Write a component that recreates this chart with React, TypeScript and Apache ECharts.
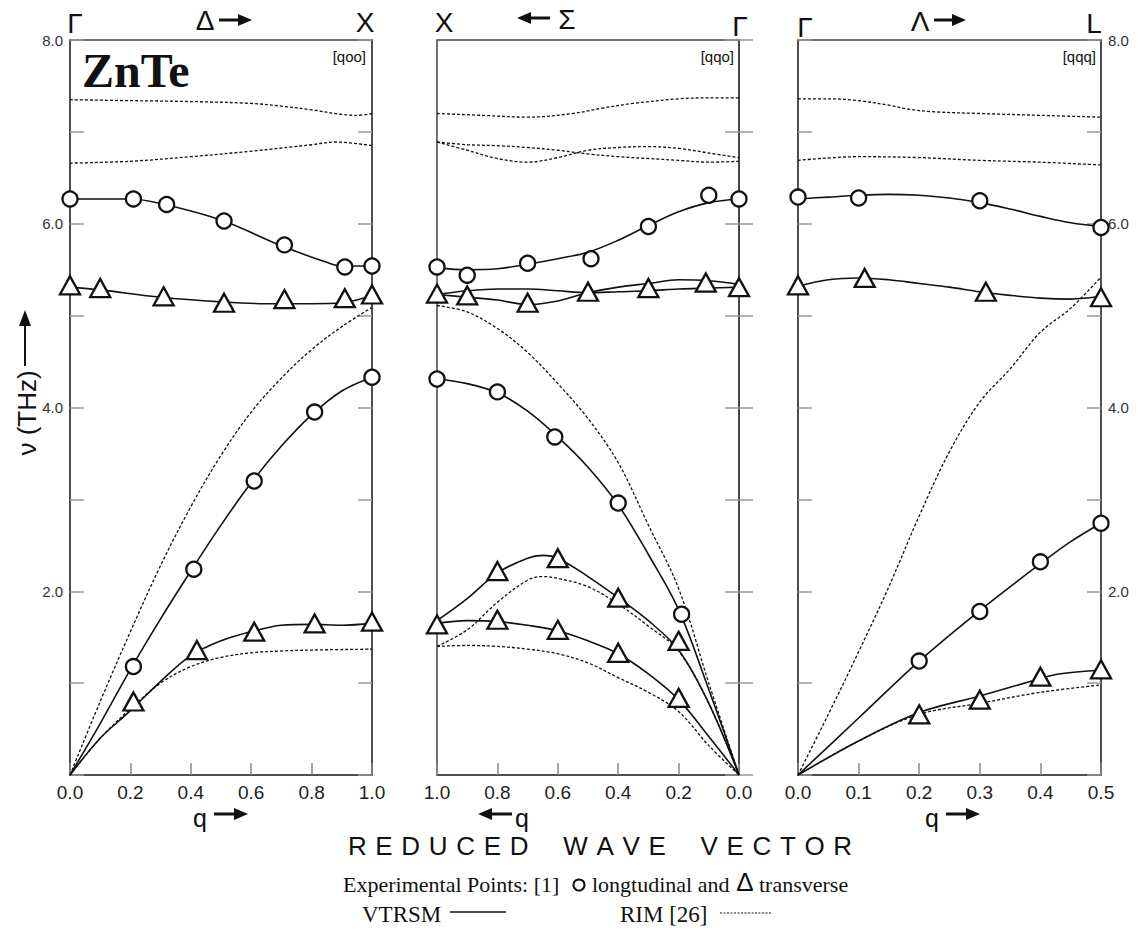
import React, { useEffect, useRef } from "react";
import * as echarts from "echarts";

type P = [number, number][];

// ---------- Panel 1: Γ → X  [q00] ----------
const P1_RIM_OPT_UPPER: P = [[0, 7.35], [0.2, 7.34], [0.4, 7.33], [0.6, 7.31], [0.7, 7.28], [0.8, 7.24], [0.9, 7.19], [0.95, 7.18], [1.0, 7.2]];
const P1_RIM_OPT_LOWER: P = [[0, 6.66], [0.2, 6.68], [0.4, 6.73], [0.6, 6.79], [0.8, 6.86], [0.88, 6.89], [1.0, 6.85]];
const P1_RIM_LA: P = [[0, 0], [0.1, 0.8], [0.2, 1.56], [0.3, 2.28], [0.4, 2.92], [0.5, 3.48], [0.6, 3.95], [0.7, 4.32], [0.8, 4.63], [0.9, 4.88], [1.0, 5.09]];
const P1_RIM_TA: P = [[0, 0], [0.1, 0.4], [0.2, 0.72], [0.3, 1.0], [0.4, 1.18], [0.5, 1.28], [0.6, 1.33], [0.7, 1.35], [0.8, 1.36], [1.0, 1.37]];
const P1_VT_LO: P = [[0, 6.27], [0.2, 6.27], [0.3, 6.22], [0.5, 6.04], [0.7, 5.76], [0.85, 5.58], [0.9, 5.54], [1.0, 5.54]];
const P1_VT_TO: P = [[0, 5.31], [0.1, 5.28], [0.3, 5.2], [0.5, 5.15], [0.65, 5.13], [0.8, 5.13], [0.9, 5.14], [1.0, 5.22]];
const P1_VT_LA: P = [[0, 0], [0.1, 0.56], [0.2, 1.15], [0.3, 1.7], [0.4, 2.22], [0.5, 2.72], [0.6, 3.18], [0.7, 3.58], [0.8, 3.92], [0.9, 4.18], [1.0, 4.33]];
const P1_VT_TA: P = [[0, 0], [0.1, 0.4], [0.2, 0.7], [0.3, 1.02], [0.4, 1.3], [0.5, 1.46], [0.6, 1.56], [0.7, 1.63], [0.8, 1.64], [0.9, 1.63], [1.0, 1.65]];
const P1_EXP_L: P = [[0, 6.27], [0.21, 6.27], [0.32, 6.21], [0.51, 6.03], [0.71, 5.77], [0.91, 5.53], [1.0, 5.54], [0.21, 1.18], [0.41, 2.24], [0.61, 3.2], [0.81, 3.95], [1.0, 4.33]];
const P1_EXP_T: P = [[0, 5.33], [0.1, 5.3], [0.31, 5.21], [0.51, 5.14], [0.71, 5.18], [0.91, 5.19], [1.0, 5.23], [0.21, 0.8], [0.42, 1.36], [0.61, 1.56], [0.81, 1.65], [1.0, 1.67]];

// ---------- Panel 2: X ← Γ  [qq0] ----------
const P2_RIM_OPT_UPPER: P = [[1.0, 7.2], [0.85, 7.18], [0.7, 7.16], [0.55, 7.2], [0.45, 7.26], [0.35, 7.31], [0.2, 7.36], [0.1, 7.37], [0, 7.37]];
const P2_RIM_OPT_A: P = [[1.0, 6.89], [0.9, 6.8], [0.8, 6.71], [0.7, 6.67], [0.6, 6.72], [0.5, 6.8], [0.4, 6.83], [0.3, 6.84], [0.2, 6.82], [0.1, 6.77], [0, 6.72]];
const P2_RIM_OPT_B: P = [[1.0, 6.89], [0.9, 6.86], [0.8, 6.85], [0.7, 6.83], [0.6, 6.8], [0.5, 6.76], [0.4, 6.73], [0.3, 6.71], [0.2, 6.69], [0.1, 6.67], [0, 6.68]];
const P2_RIM_LA: P = [[1.0, 5.11], [0.9, 5.04], [0.8, 4.86], [0.7, 4.6], [0.6, 4.26], [0.5, 3.88], [0.4, 3.4], [0.3, 2.72], [0.2, 2.03], [0.1, 1.0], [0, 0]];
const P2_RIM_TA_UPPER: P = [[1.0, 1.4], [0.9, 1.58], [0.8, 1.88], [0.7, 2.12], [0.65, 2.16], [0.6, 2.14], [0.5, 2.05], [0.4, 1.86], [0.3, 1.62], [0.2, 1.35], [0.1, 0.78], [0, 0]];
const P2_RIM_TA_LOWER: P = [[1.0, 1.4], [0.9, 1.41], [0.8, 1.4], [0.7, 1.37], [0.6, 1.32], [0.5, 1.22], [0.4, 1.06], [0.3, 0.9], [0.2, 0.69], [0.1, 0.32], [0, 0]];
const P2_VT_LO: P = [[1.0, 5.52], [0.9, 5.5], [0.8, 5.51], [0.7, 5.56], [0.6, 5.62], [0.5, 5.69], [0.4, 5.82], [0.3, 5.98], [0.2, 6.13], [0.1, 6.23], [0, 6.27]];
const P2_VT_TO_A: P = [[1.0, 5.23], [0.9, 5.27], [0.8, 5.29], [0.7, 5.29], [0.6, 5.27], [0.5, 5.25], [0.4, 5.26], [0.3, 5.27], [0.2, 5.29], [0.1, 5.3], [0, 5.31]];
const P2_VT_TO_B: P = [[1.0, 5.23], [0.9, 5.2], [0.8, 5.17], [0.7, 5.12], [0.6, 5.16], [0.5, 5.25], [0.4, 5.31], [0.3, 5.35], [0.2, 5.39], [0.1, 5.38], [0, 5.34]];
const P2_VT_LA: P = [[1.0, 4.31], [0.9, 4.26], [0.8, 4.16], [0.7, 3.96], [0.6, 3.68], [0.5, 3.35], [0.4, 2.94], [0.3, 2.4], [0.2, 1.8], [0.1, 0.93], [0, 0]];
const P2_VT_TA_UPPER: P = [[1.0, 1.68], [0.9, 1.92], [0.8, 2.2], [0.7, 2.36], [0.65, 2.39], [0.6, 2.36], [0.5, 2.16], [0.4, 1.93], [0.3, 1.68], [0.2, 1.36], [0.1, 0.78], [0, 0]];
const P2_VT_TA_LOWER: P = [[1.0, 1.65], [0.9, 1.68], [0.8, 1.67], [0.7, 1.63], [0.6, 1.57], [0.5, 1.46], [0.4, 1.32], [0.3, 1.1], [0.2, 0.82], [0.1, 0.42], [0, 0]];
const P2_EXP_L: P = [[1.0, 5.53], [0.9, 5.44], [0.7, 5.57], [0.49, 5.62], [0.3, 5.97], [0.1, 6.31], [0, 6.27], [1.0, 4.31], [0.8, 4.17], [0.61, 3.68], [0.4, 2.96], [0.19, 1.75]];
const P2_EXP_T: P = [[1.0, 5.24], [0.9, 5.22], [0.7, 5.14], [0.5, 5.26], [0.3, 5.3], [0.11, 5.36], [0, 5.31], [1.0, 1.64], [0.8, 2.22], [0.6, 2.36], [0.4, 1.93], [0.2, 1.46], [0.8, 1.69], [0.6, 1.58], [0.4, 1.33], [0.2, 0.84]];

// ---------- Panel 3: Γ → L  [qqq] ----------
const P3_RIM_OPT_UPPER: P = [[0, 7.36], [0.05, 7.36], [0.1, 7.34], [0.15, 7.29], [0.18, 7.25], [0.22, 7.22], [0.3, 7.2], [0.4, 7.18], [0.5, 7.16]];
const P3_RIM_OPT_LOWER: P = [[0, 6.69], [0.1, 6.73], [0.2, 6.72], [0.3, 6.69], [0.4, 6.67], [0.5, 6.64]];
const P3_RIM_LA: P = [[0, 0], [0.05, 0.66], [0.1, 1.34], [0.15, 2.05], [0.2, 2.82], [0.25, 3.52], [0.3, 4.06], [0.35, 4.42], [0.4, 4.82], [0.45, 5.08], [0.5, 5.42]];
const P3_RIM_TA: P = [[0, 0], [0.1, 0.37], [0.2, 0.66], [0.3, 0.78], [0.4, 0.9], [0.5, 0.98]];
const P3_VT_LO: P = [[0, 6.27], [0.05, 6.29], [0.1, 6.31], [0.15, 6.32], [0.2, 6.31], [0.25, 6.28], [0.3, 6.23], [0.35, 6.16], [0.4, 6.08], [0.45, 6.01], [0.5, 5.97]];
const P3_VT_TO: P = [[0, 5.32], [0.05, 5.39], [0.1, 5.41], [0.15, 5.39], [0.2, 5.35], [0.25, 5.31], [0.3, 5.26], [0.35, 5.22], [0.4, 5.19], [0.45, 5.18], [0.5, 5.21]];
const P3_VT_LA: P = [[0, 0], [0.1, 0.62], [0.2, 1.24], [0.3, 1.79], [0.4, 2.3], [0.45, 2.54], [0.5, 2.74]];
const P3_VT_TA: P = [[0, 0], [0.1, 0.37], [0.2, 0.68], [0.3, 0.86], [0.4, 1.05], [0.43, 1.1], [0.5, 1.14]];
const P3_EXP_L: P = [[0, 6.29], [0.1, 6.28], [0.3, 6.25], [0.5, 5.96], [0.2, 1.24], [0.3, 1.78], [0.4, 2.32], [0.5, 2.74]];
const P3_EXP_T: P = [[0, 5.33], [0.11, 5.41], [0.31, 5.26], [0.5, 5.2], [0.2, 0.66], [0.3, 0.82], [0.4, 1.07], [0.5, 1.15]];

// axes
const Q_MAX = [1.0, 1.0, 0.5];
const Q_STEP = [0.2, 0.2, 0.1];
const Q_INVERSE = [false, true, false];
const FREQ_MIN = 0;
const FREQ_MAX = 8;
const FREQ_STEP = 1;
const FREQ_LABELS = [2, 4, 6, 8];
const DIRECTION_TAGS = ["[qoo]", "[qqo]", "[qqq]"];

const SANS = '"Liberation Sans", Arial, sans-serif';
const SERIF = '"Liberation Serif", "Times New Roman", serif';
const INK = "#111";

const GRIDS = [
  { left: 70, top: 40, width: 302, height: 735 },
  { left: 437, top: 40, width: 302, height: 735 },
  { left: 798, top: 40, width: 303, height: 735 },
];

function lineSeries(data: P, k: number, dashed: boolean) {
  return {
    type: "line",
    data,
    xAxisIndex: k,
    yAxisIndex: k,
    smooth: 0.35,
    showSymbol: false,
    symbol: "none",
    silent: true,
    z: dashed ? 2 : 3,
    lineStyle: dashed
      ? { color: INK, width: 1.3, type: [3, 2] }
      : { color: INK, width: 1.6, type: "solid" },
  };
}

function pointSeries(data: P, k: number, tri: boolean) {
  return {
    type: "scatter",
    data,
    xAxisIndex: k,
    yAxisIndex: k,
    clip: false,
    silent: true,
    z: 5,
    symbol: tri ? "triangle" : "circle",
    symbolSize: tri ? [20, 18] : 15,
    itemStyle: { color: "#fff", borderColor: INK, borderWidth: 2.3, opacity: 1 },
  };
}

function txt(x: number, y: number, text: string, font: string, align = "center", extra: any = {}) {
  return {
    type: "text",
    x,
    y,
    silent: true,
    style: { text, font, fill: INK, textAlign: align, textVerticalAlign: "middle" },
    ...extra,
  };
}

function arrow(x1: number, y1: number, x2: number, y2: number, head = 14, hw = 6, w = 3) {
  const dx = x2 - x1;
  const dy = y2 - y1;
  const len = Math.sqrt(dx * dx + dy * dy);
  const ux = dx / len;
  const uy = dy / len;
  const bx = x2 - ux * head;
  const by = y2 - uy * head;
  return [
    { type: "line", silent: true, shape: { x1, y1, x2: bx + ux, y2: by + uy }, style: { stroke: INK, lineWidth: w } },
    {
      type: "polygon",
      silent: true,
      shape: { points: [[x2, y2], [bx - uy * hw, by + ux * hw], [bx + uy * hw, by - ux * hw]] },
      style: { fill: INK },
    },
  ];
}

function buildOption() {
  const xAxis = [0, 1, 2].map((k) => ({
    type: "value",
    gridIndex: k,
    min: 0,
    max: Q_MAX[k],
    interval: Q_STEP[k],
    inverse: Q_INVERSE[k],
    axisLine: { show: true, lineStyle: { color: "#444", width: 1.5 } },
    axisTick: { show: true, inside: true, length: 12, lineStyle: { color: "#888", width: 1.5 } },
    axisLabel: { show: true, fontSize: 19, color: "#222", fontFamily: SANS, margin: 8, formatter: (v: number) => v.toFixed(1) },
    splitLine: { show: false },
  }));
  const yAxis: any[] = [];
  for (const side of ["left", "right"]) {
    for (let k = 0; k < 3; k++) {
      const showLab = (side === "left" && k === 0) || (side === "right" && k === 2);
      yAxis.push({
        type: "value",
        gridIndex: k,
        position: side,
        min: FREQ_MIN,
        max: FREQ_MAX,
        interval: FREQ_STEP,
        axisLine: { show: true, lineStyle: { color: "#444", width: 1.5 } },
        axisTick: { show: true, inside: true, length: 14, lineStyle: { color: "#999", width: 1.5 } },
        axisLabel: {
          show: showLab,
          fontSize: 15,
          color: "#333",
          fontFamily: SANS,
          margin: 7,
          formatter: (v: number) => (FREQ_LABELS.indexOf(v) >= 0 ? v.toFixed(1) : ""),
        },
        splitLine: { show: false },
      });
    }
  }

  const series: any[] = [
    lineSeries(P1_RIM_OPT_UPPER, 0, true),
    lineSeries(P1_RIM_OPT_LOWER, 0, true),
    lineSeries(P1_RIM_LA, 0, true),
    lineSeries(P1_RIM_TA, 0, true),
    lineSeries(P1_VT_LO, 0, false),
    lineSeries(P1_VT_TO, 0, false),
    lineSeries(P1_VT_LA, 0, false),
    lineSeries(P1_VT_TA, 0, false),
    pointSeries(P1_EXP_L, 0, false),
    pointSeries(P1_EXP_T, 0, true),

    lineSeries(P2_RIM_OPT_UPPER, 1, true),
    lineSeries(P2_RIM_OPT_A, 1, true),
    lineSeries(P2_RIM_OPT_B, 1, true),
    lineSeries(P2_RIM_LA, 1, true),
    lineSeries(P2_RIM_TA_UPPER, 1, true),
    lineSeries(P2_RIM_TA_LOWER, 1, true),
    lineSeries(P2_VT_LO, 1, false),
    lineSeries(P2_VT_TO_A, 1, false),
    lineSeries(P2_VT_TO_B, 1, false),
    lineSeries(P2_VT_LA, 1, false),
    lineSeries(P2_VT_TA_UPPER, 1, false),
    lineSeries(P2_VT_TA_LOWER, 1, false),
    pointSeries(P2_EXP_L, 1, false),
    pointSeries(P2_EXP_T, 1, true),

    lineSeries(P3_RIM_OPT_UPPER, 2, true),
    lineSeries(P3_RIM_OPT_LOWER, 2, true),
    lineSeries(P3_RIM_LA, 2, true),
    lineSeries(P3_RIM_TA, 2, true),
    lineSeries(P3_VT_LO, 2, false),
    lineSeries(P3_VT_TO, 2, false),
    lineSeries(P3_VT_LA, 2, false),
    lineSeries(P3_VT_TA, 2, false),
    pointSeries(P3_EXP_L, 2, false),
    pointSeries(P3_EXP_T, 2, true),
  ];

  const sym = `28px ${SANS}`;
  const SP = "\u2004";
  const spaced = (w: string) => w.split("").join(SP);
  const reduced = [spaced("REDUCED"), spaced("WAVE"), spaced("VECTOR")].join(SP + SP + SP + SP);

  const graphic: any[] = [
    // top symmetry labels
    txt(75, 23, "Γ", sym),
    txt(205, 20, "Δ", sym),
    ...arrow(219, 20, 252, 20),
    txt(365, 22, "X", sym),
    txt(444, 22, "X", sym),
    ...arrow(550, 18, 517, 18),
    txt(567, 19, "Σ", sym),
    txt(740, 26, "Γ", sym),
    txt(805, 27, "Γ", sym),
    txt(920, 21, "Λ", sym),
    ...arrow(934, 20, 966, 20),
    txt(1094, 23, "L", sym),
    // direction tags
    txt(366, 56, DIRECTION_TAGS[0], `15px ${SANS}`, "right"),
    txt(734, 56, DIRECTION_TAGS[1], `15px ${SANS}`, "right"),
    txt(1096, 56, DIRECTION_TAGS[2], `15px ${SANS}`, "right"),
    // compound
    txt(82, 70, "ZnTe", `bold 48px ${SERIF}`, "left"),
    // y axis title
    txt(27, 413, "ν (THz)", `26px ${SANS}`, "center", { rotation: Math.PI / 2 }),
    ...arrow(25, 366, 25, 310, 16, 6, 2),
    // q arrows under axes
    txt(200, 818, "q", `25px ${SANS}`),
    ...arrow(214, 814, 248, 814),
    ...arrow(512, 814, 478, 814),
    txt(522, 818, "q", `25px ${SANS}`),
    txt(932, 818, "q", `25px ${SANS}`),
    ...arrow(946, 814, 980, 814),
    // title
    txt(600, 846, reduced, `26px ${SANS}`),
    // legend row 1
    txt(343, 884, "Experimental Points: [1]", `22px ${SERIF}`, "left"),
    { type: "circle", silent: true, shape: { cx: 579, cy: 885, r: 5.5 }, style: { fill: "#fff", stroke: INK, lineWidth: 2 } },
    txt(592, 884, "longtudinal and", `22px ${SERIF}`, "left"),
    txt(745, 882, "Δ", `26px ${SANS}`),
    txt(759, 884, "transverse", `22px ${SERIF}`, "left"),
    // legend row 2
    txt(362, 914, "VTRSM", `23px ${SERIF}`, "left"),
    { type: "line", silent: true, shape: { x1: 450, y1: 912, x2: 506, y2: 912 }, style: { stroke: INK, lineWidth: 1.3 } },
    txt(620, 914, "RIM [26]", `23px ${SERIF}`, "left"),
    { type: "line", silent: true, shape: { x1: 720, y1: 913, x2: 771, y2: 913 }, style: { stroke: INK, lineWidth: 1, lineDash: [2, 1.5] } },
  ];

  return {
    animation: false,
    backgroundColor: "#fff",
    grid: GRIDS.map((g) => ({ ...g, show: true, borderColor: "#444", borderWidth: 1.5, containLabel: false })),
    xAxis,
    yAxis,
    series,
    graphic,
  };
}

export default function App() {
  const ref = useRef<HTMLDivElement>(null);
  useEffect(() => {
    if (!ref.current) return;
    const chart = echarts.init(ref.current, undefined, { renderer: "svg" });
    chart.setOption(buildOption() as any);
    return () => chart.dispose();
  }, []);
  return (
    <div
      ref={ref}
      style={{ position: "absolute", left: 0, top: 0, width: 1140, height: 930, background: "#fff" }}
    />
  );
}
